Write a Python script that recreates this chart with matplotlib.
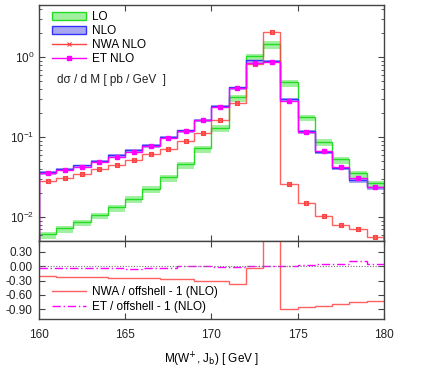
import numpy as np
import matplotlib
matplotlib.use('Agg')
import matplotlib.pyplot as plt
from matplotlib.ticker import FormatStrFormatter, LogLocator, MultipleLocator
from matplotlib.patches import Patch
from matplotlib.lines import Line2D

plt.rcParams['font.family'] = ['Liberation Sans', 'DejaVu Sans']
plt.rcParams['font.size'] = 8.5
plt.rcParams['axes.unicode_minus'] = False

# bin edges in GeV
edges = np.arange(160, 181, 1)
centers = edges[:-1] + 0.5

# d sigma / dM [pb/GeV]
lo = [0.00608, 0.00724, 0.00866, 0.0106, 0.0132, 0.0170, 0.0226, 0.0313, 0.046, 0.073,
      0.132, 0.316, 1.03, 1.48, 0.487, 0.179, 0.0874, 0.0526, 0.0352, 0.0264]
lo_up = [1.07, 1.07, 1.07, 1.07, 1.07, 1.07, 1.07, 1.07, 1.07, 1.07,
         1.07, 1.07, 1.07, 1.07, 1.07, 1.07, 1.07, 1.07, 1.07, 1.07]
lo_dn = [0.88, 0.88, 0.88, 0.88, 0.88, 0.88, 0.88, 0.88, 0.88, 0.88,
         0.88, 0.88, 0.88, 0.87, 0.88, 0.88, 0.88, 0.88, 0.88, 0.88]
nlo = [0.0365, 0.0402, 0.0443, 0.0506, 0.060, 0.0688, 0.0794, 0.101, 0.122, 0.166,
       0.246, 0.42, 0.917, 0.90, 0.301, 0.119, 0.0656, 0.0414, 0.029, 0.0235]
nlo_up = [1.02, 1.02, 1.02, 1.02, 1.02, 1.02, 1.02, 1.02, 1.02, 1.02,
          1.02, 1.02, 1.02, 1.02, 1.02, 1.02, 1.02, 1.02, 1.02, 1.02]
nlo_dn = [0.93, 0.93, 0.93, 0.93, 0.93, 0.93, 0.93, 0.93, 0.93, 0.93,
          0.93, 0.93, 0.93, 0.93, 0.92, 0.93, 0.93, 0.93, 0.93, 0.93]
nwa = [0.0282, 0.031, 0.0348, 0.0394, 0.0447, 0.0512, 0.0613, 0.0708, 0.0883, 0.113,
       0.163, 0.268, 0.818, 2.05, 0.0258, 0.0148, 0.0103, 0.00787, 0.00702, 0.00568]
et = [0.0352, 0.0385, 0.0421, 0.0482, 0.057, 0.065, 0.077, 0.097, 0.121, 0.162,
      0.242, 0.41, 0.86, 0.88, 0.284, 0.117, 0.067, 0.0425, 0.0307, 0.0239]

# ratios to offshell NLO
nwa_ratio = [-0.20, -0.22, -0.23, -0.235, -0.245, -0.25, -0.24, -0.27, -0.26, -0.305,
             -0.32, -0.365, -0.04, 1.28, -0.895, -0.855, -0.825, -0.79, -0.74, -0.73]
et_ratio = [-0.03, -0.045, -0.05, -0.05, -0.05, -0.055, -0.03, -0.045, 0.01, 0.0,
            -0.01, -0.01, 0.005, 0.01, 0.01, 0.03, 0.035, 0.04, 0.10, 0.045]

green, green_band = '#22dd22', '#a0f0a0'
blue, blue_band = '#3333ff', '#a8a8f0'
red = '#ff4444'
mag = '#ff00ff'
spine_c = '#444444'

fig = plt.figure(figsize=(4.4, 3.68), dpi=100)
ax = fig.add_axes([0.0886, 0.345, 0.784, 0.641])
ax2 = fig.add_axes([0.0886, 0.133, 0.784, 0.212], sharex=ax)

lo_a, nlo_a = np.array(lo), np.array(nlo)
ax.stairs(lo_a * np.array(lo_up), edges, baseline=lo_a * np.array(lo_dn), fill=True,
          color=green_band, lw=0)
ax.stairs(nlo_a * np.array(nlo_up), edges, baseline=nlo_a * np.array(nlo_dn), fill=True,
          color=blue_band, lw=0)
ax.stairs(lo, edges, color=green, lw=1.0)
ax.stairs(nlo, edges, color=blue, lw=1.0)
ax.stairs(nwa, edges, color=red, lw=1.0, alpha=0.85)
ax.plot(centers, nwa, ls='none', marker='s', ms=3.0, mfc='none', mec=red, mew=0.8)
ax.plot(centers, nwa, ls='none', marker='x', ms=3.0, color=red, mew=0.8)
ax.stairs(et, edges, color=mag, lw=1.0)
ax.plot(centers, et, ls='none', marker='s', ms=2.5, color=mag)

ax.set_yscale('log')
ax.set_xlim(160, 180)
ax.set_ylim(0.005, 4.5)
ax.yaxis.set_major_locator(LogLocator(base=10, numticks=10))
ax.yaxis.set_minor_locator(LogLocator(base=10, subs=np.arange(2, 10), numticks=10))
ax.tick_params(labelbottom=False)

handles = [Patch(facecolor=green_band, edgecolor=green, lw=1.0),
           Patch(facecolor=blue_band, edgecolor=blue, lw=1.0),
           Line2D([], [], color=red, lw=1.0, marker='x', ms=3.0, mew=0.8),
           Line2D([], [], color=mag, lw=1.0, marker='s', ms=2.5)]
ax.legend(handles, ['LO', 'NLO', 'NWA NLO', 'ET NLO'], loc='upper left',
          bbox_to_anchor=(0.038, 0.975), frameon=False, borderpad=0, borderaxespad=0,
          handlelength=2.9, handleheight=0.75, handletextpad=0.5, labelspacing=0.17)
ax.text(0.052, 0.682, 'd\u03c3 / d M [ pb / GeV  ]', transform=ax.transAxes,
        va='center', ha='left', color='#222222')

ax2.axhline(0, color='#777777', ls=(0, (1, 1.5)), lw=0.8)
ax2.stairs(nwa_ratio, edges, baseline=None, color=red, lw=1.0, alpha=0.85,
           label='NWA / offshell - 1 (NLO)')
ax2.stairs(et_ratio, edges, baseline=None, color=mag, lw=1.0, ls=(0, (6, 2, 1, 2)),
           label='ET / offshell - 1 (NLO)')
ax2.set_ylim(-1.1, 0.52)
ax2.set_yticks([0.3, 0.0, -0.3, -0.6, -0.9])
ax2.yaxis.set_major_formatter(FormatStrFormatter('%.2f'))
ax2.xaxis.set_major_locator(MultipleLocator(5))
ax2.set_xlabel('M(W$^{+}$, J$_{\\mathrm{b}}$) [ GeV ]', labelpad=7)
ax2.legend(loc='upper left', bbox_to_anchor=(0.038, 0.42), frameon=False,
           borderpad=0, borderaxespad=0, handlelength=2.9, handletextpad=0.5,
           labelspacing=0.2)

for a in (ax, ax2):
    a.tick_params(which='both', direction='in', top=True, right=True, colors=spine_c,
                  labelcolor='#222222')
    a.tick_params(which='major', length=4.5, width=0.8)
    a.tick_params(which='minor', length=2.5, width=0.6)
    for s in a.spines.values():
        s.set_color(spine_c)
        s.set_linewidth(1.0)
ax2.tick_params(axis='x', pad=7)
ax2.tick_params(axis='y', pad=4.5)

fig.savefig('out.png', dpi=100)
